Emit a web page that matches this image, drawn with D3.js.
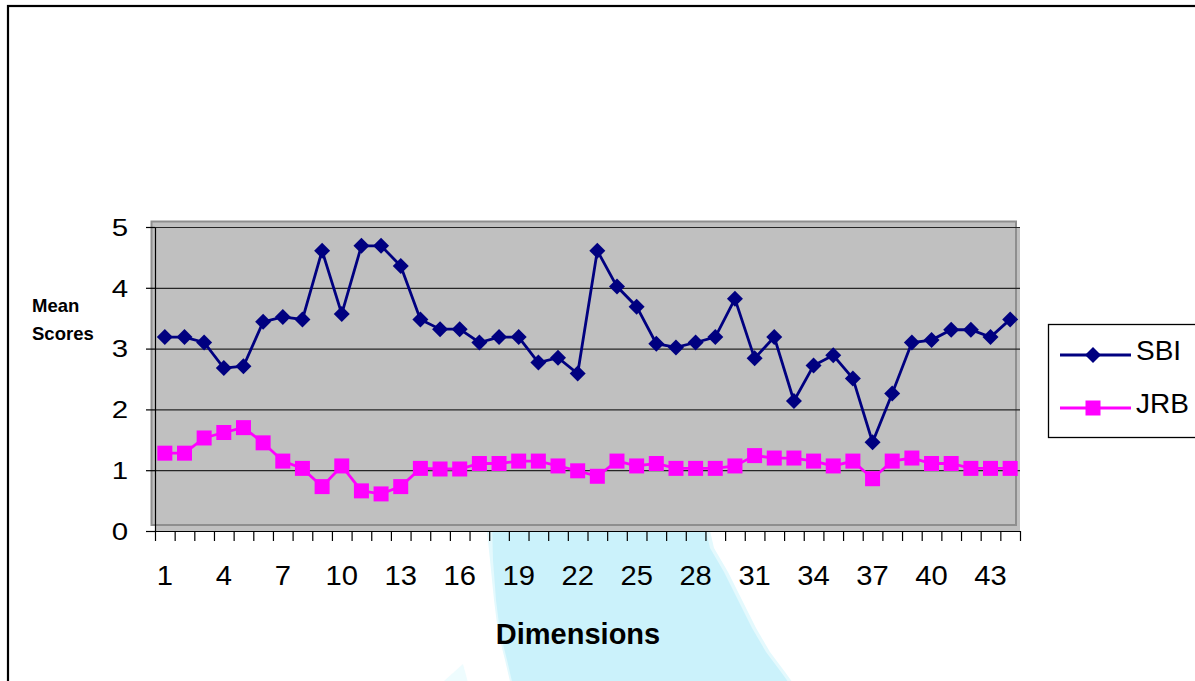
<!DOCTYPE html>
<html>
<head>
<meta charset="utf-8">
<script src="https://cdn.jsdelivr.net/npm/d3@7"></script>
<style>
  html, body { margin: 0; padding: 0; background: #fff; }
  svg { display: block; font-family: "Liberation Sans", Arial, sans-serif; }
</style>
</head>
<body>
<svg id="chart" width="1195" height="681"></svg>
<script>
// Dimension numbers along the x axis
const categories = [1,2,3,4,5,6,7,8,9,10,11,12,13,14,15,16,17,18,19,20,21,22,
                    23,24,25,26,27,28,29,30,31,32,33,34,35,36,37,38,39,40,41,42,43,44];
// Mean scores per dimension
const sbi = [3.19,3.19,3.10,2.68,2.71,3.44,3.52,3.48,4.61,3.57,
             4.69,4.69,4.36,3.48,3.32,3.32,3.10,3.19,3.19,2.77,
             2.85,2.59,4.61,4.02,3.69,3.08,3.02,3.10,3.19,3.82,
             2.84,3.19,2.14,2.72,2.89,2.51,1.46,2.26,3.10,3.14,
             3.31,3.31,3.19,3.48];
const jrb = [1.28,1.28,1.53,1.62,1.70,1.45,1.15,1.03,0.73,1.07,
             0.66,0.61,0.73,1.03,1.02,1.02,1.11,1.11,1.15,1.15,
             1.07,0.99,0.90,1.15,1.07,1.11,1.03,1.03,1.03,1.07,
             1.24,1.20,1.20,1.15,1.07,1.15,0.86,1.15,1.20,1.11,
             1.11,1.03,1.03,1.03];
const seriesNames = ["SBI", "JRB"];
const xTickLabels = [1,4,7,10,13,16,19,22,25,28,31,34,37,40,43];
const yTickValues = [0,1,2,3,4,5];
const xTitle = "Dimensions";
const yTitleLines = ["Mean", "Scores"];

const svg = d3.select("#chart");
const plotLeft = 155, plotRight = 1020, plotTop = 227, plotBottom = 531;

const x = d3.scaleBand().domain(categories).range([plotLeft, plotRight]).padding(0);
const xEdge = d3.scaleLinear().domain([0, categories.length]).range([plotLeft, plotRight]);
const y = d3.scaleLinear().domain([0, 5]).range([plotBottom, plotTop]);
const cx = c => x(c) + x.bandwidth() / 2;

// Outer chart frame
svg.append("rect").attr("x", 8).attr("y", 6).attr("width", 1240).attr("height", 720)
  .attr("fill", "none").attr("stroke", "#000").attr("stroke-width", 2.2);

// Pale watermark shape behind the chart
svg.append("polygon")
  .attr("points", "486,522 708,522 714,548 728,572 742,600 756,628 770,652 785,672 798,690 512,690 505,660 498,632 494,600 490,560")
  .attr("fill", "#e4f9fd");
svg.append("polygon")
  .attr("points", "492,522 704,522 710,548 724,572 738,600 752,628 766,652 781,672 794,690 514,690 507,660 500,632 496,600 493,560")
  .attr("fill", "#cbf2fb");
svg.append("polygon")
  .attr("points", "463,664 470,690 434,690")
  .attr("fill", "#eefcfe");

// Plot area: grey fill with an offset bevelled frame
svg.append("rect").attr("x", plotLeft).attr("y", plotTop)
  .attr("width", plotRight - plotLeft).attr("height", plotBottom - plotTop).attr("fill", "#c0c0c0");
svg.append("rect").attr("x", 151.5).attr("y", 221.5)
  .attr("width", 1016 - 151.5).attr("height", 525 - 221.5)
  .attr("fill", "#c0c0c0").attr("stroke", "#8e8e8e").attr("stroke-width", 2);

// Horizontal gridlines
const grid = svg.append("g").attr("transform", `translate(${plotLeft},0)`)
  .call(d3.axisLeft(y).tickValues([1,2,3,4,5]).tickSize(-(plotRight - plotLeft)).tickFormat(""));
grid.select(".domain").remove();
grid.selectAll("line").attr("stroke", "#262626").attr("stroke-width", 1.2);

// Y axis
const yAxis = svg.append("g").attr("transform", `translate(${plotLeft},0)`)
  .call(d3.axisLeft(y).tickValues(yTickValues).tickSize(9).tickSizeOuter(0).tickFormat(d3.format("d")));
yAxis.select(".domain").attr("stroke", "#000").attr("stroke-width", 1.2);
yAxis.selectAll("line").attr("stroke", "#000").attr("stroke-width", 1.2);
yAxis.selectAll("text")
  .attr("x", -21).attr("dy", "0.36em")
  .attr("transform", "scale(1.28,1)")
  .attr("font-size", 23).attr("fill", "#000")
  .attr("font-family", "Liberation Sans, Arial, sans-serif");

// X axis tick marks at category boundaries
const xTicks = svg.append("g").attr("transform", `translate(0,${plotBottom})`)
  .call(d3.axisBottom(xEdge).tickValues(d3.range(0, categories.length + 1)).tickSize(10).tickSizeOuter(0).tickFormat(""));
xTicks.select(".domain").attr("stroke", "#000").attr("stroke-width", 1.2);
xTicks.selectAll("line").attr("stroke", "#000").attr("stroke-width", 1.2);

// X axis labels, every third dimension
const xLabels = svg.append("g").attr("transform", `translate(0,${plotBottom})`)
  .call(d3.axisBottom(x).tickValues(xTickLabels).tickSize(0));
xLabels.select(".domain").remove();
xLabels.selectAll("text")
  .attr("y", 34.5).attr("dy", "0.71em")
  .attr("transform", "scale(1.08,1)")
  .attr("font-size", 27).attr("fill", "#000")
  .attr("font-family", "Liberation Sans, Arial, sans-serif");

// Series lines and markers
const line = d3.line().x((d, i) => cx(categories[i])).y(d => y(d));
const diamond = d3.symbol(d3.symbolSquare, 128);
const square = d3.symbol(d3.symbolSquare, 225);

svg.append("path").datum(jrb).attr("d", line)
  .attr("fill", "none").attr("stroke", "#ff00ff").attr("stroke-width", 2.8);
svg.append("g").selectAll("path").data(jrb).join("path")
  .attr("d", square)
  .attr("transform", (d, i) => `translate(${cx(categories[i])},${y(d)})`)
  .attr("fill", "#ff00ff");

svg.append("path").datum(sbi).attr("d", line)
  .attr("fill", "none").attr("stroke", "#000080").attr("stroke-width", 2.8);
svg.append("g").selectAll("path").data(sbi).join("path")
  .attr("d", diamond)
  .attr("transform", (d, i) => `translate(${cx(categories[i])},${y(d)}) rotate(45)`)
  .attr("fill", "#000080");

// Axis titles
svg.append("text").attr("x", 578).attr("y", 644)
  .attr("text-anchor", "middle").attr("font-size", 29).attr("font-weight", "bold")
  .text(xTitle);
svg.append("g").selectAll("text").data(yTitleLines).join("text")
  .attr("x", 32).attr("y", (d, i) => 312 + i * 28)
  .attr("font-size", 18.5).attr("font-weight", "bold")
  .text(d => d);

// Legend
const legend = svg.append("g");
legend.append("rect").attr("x", 1048.5).attr("y", 324.5).attr("width", 200).attr("height", 113)
  .attr("fill", "#fff").attr("stroke", "#000").attr("stroke-width", 1.3);
const rows = [
  { name: seriesNames[0], color: "#000080", sym: diamond, rot: 45, yy: 355 },
  { name: seriesNames[1], color: "#ff00ff", sym: square, rot: 0, yy: 408 }
];
rows.forEach(r => {
  legend.append("line").attr("x1", 1060).attr("x2", 1131).attr("y1", r.yy).attr("y2", r.yy)
    .attr("stroke", r.color).attr("stroke-width", 3);
  legend.append("path").attr("d", r.sym)
    .attr("transform", `translate(1093,${r.yy}) rotate(${r.rot})`)
    .attr("fill", r.color);
  legend.append("text").attr("x", 1136).attr("y", r.yy + 5)
    .attr("font-size", 28).text(r.name);
});
</script>
</body>
</html>
